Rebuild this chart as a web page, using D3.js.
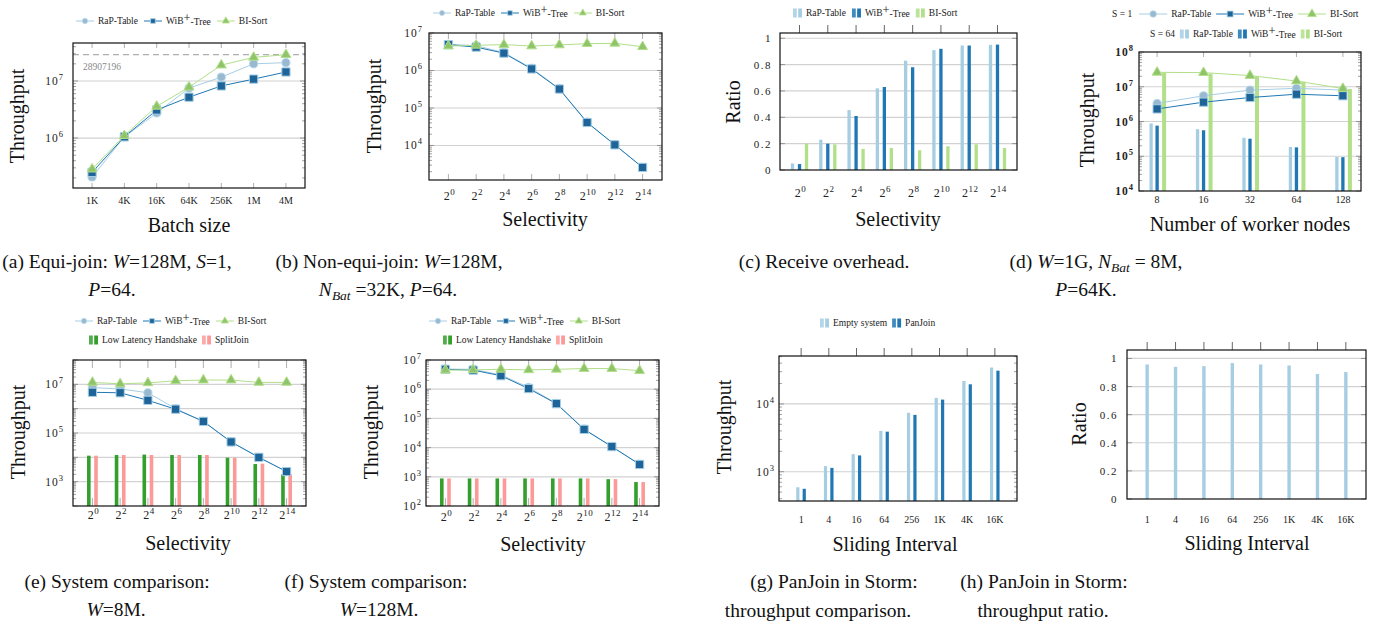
<!DOCTYPE html>
<html>
<head>
<meta charset="utf-8">
<script src="https://cdn.jsdelivr.net/npm/d3@7"></script>
<style>
body{margin:0;background:#fff;}
svg{display:block;}
svg text{font-family:"Liberation Serif","DejaVu Serif",serif;}
</style>
</head>
<body>
<div id="container"></div>
<script>
// ---------- data ----------
const seriesNames = ["RaP-Table", "WiB+-Tree", "BI-Sort"];
const sysNames = ["Low Latency Handshake", "SplitJoin"];
const stormNames = ["Empty system", "PanJoin"];

// (a) equi-join, throughput vs batch size
const batchSizes = ["1K", "4K", "16K", "64K", "256K", "1M", "4M"];
const equiRaP = [2.07e5, 1.05e6, 2.75e6, 7.5e6, 1.17e7, 2.0e7, 2.1e7];
const equiWiB = [2.5e5, 1.05e6, 3.1e6, 5.2e6, 8.2e6, 1.08e7, 1.44e7];
const equiBI = [2.85e5, 1.1e6, 3.6e6, 7.8e6, 1.9e7, 2.6e7, 2.9e7];
const equiUpper = 28907196;

// selectivity given as exponent of 2
const selectivityExp = [0, 2, 4, 6, 8, 10, 12, 14];

// (b) non-equi-join
const nonEquiRaP = [5.0e6, 4.6e6, 3.0e6, 1.15e6, 3.25e5, 4.2e4, 1.05e4, 2.6e3];
const nonEquiWiB = [4.9e6, 4.2e6, 2.9e6, 1.1e6, 3.2e5, 4.1e4, 1.04e4, 2.6e3];
const nonEquiBI = [4.5e6, 4.7e6, 4.9e6, 4.5e6, 4.8e6, 5.2e6, 5.3e6, 4.3e6];

// (c) receive overhead ratio
const recvRaP = [0.05, 0.23, 0.455, 0.62, 0.83, 0.91, 0.945, 0.95];
const recvWiB = [0.045, 0.2, 0.41, 0.63, 0.78, 0.92, 0.945, 0.952];
const recvBI = [0.2, 0.195, 0.16, 0.167, 0.15, 0.18, 0.195, 0.167];

// (d) scaling with worker nodes
const workers = ["8", "16", "32", "64", "128"];
const s1RaP = [3.3e6, 5.5e6, 8.0e6, 9.0e6, 8.0e6];
const s1WiB = [2.3e6, 3.6e6, 4.9e6, 6.1e6, 5.5e6];
const s1BI = [2.6e7, 2.55e7, 2.1e7, 1.46e7, 8.9e6];
const s64RaP = [8.8e5, 6.0e5, 3.4e5, 1.85e5, 9.6e4];
const s64WiB = [7.6e5, 5.6e5, 3.2e5, 1.8e5, 9.4e4];
const s64BI = [2.5e7, 2.4e7, 2.0e7, 1.4e7, 8.6e6];

// (e) system comparison W=8M
const sys8RaP = [7.3e6, 6.5e6, 4.5e6, 1.0e6, 3.0e5, 4.3e4, 1.0e4, 2.6e3];
const sys8WiB = [4.7e6, 4.5e6, 2.2e6, 9.5e5, 3.0e5, 4.3e4, 1.0e4, 2.6e3];
const sys8BI = [1.2e7, 1.05e7, 1.15e7, 1.4e7, 1.5e7, 1.5e7, 1.2e7, 1.2e7];
const sys8LLH = [1.17e4, 1.25e4, 1.3e4, 1.25e4, 1.25e4, 9.7e3, 5.3e3, 2.0e3];
const sys8Split = [1.17e4, 1.25e4, 1.25e4, 1.25e4, 1.25e4, 9.7e3, 5.5e3, 2.0e3];

// (f) system comparison W=128M
const sys128RaP = [4.9e6, 4.8e6, 3.1e6, 1.15e6, 3.3e5, 4.3e4, 1.1e4, 2.7e3];
const sys128WiB = [4.8e6, 4.5e6, 2.9e6, 1.05e6, 3.2e5, 4.2e4, 1.08e4, 2.65e3];
const sys128BI = [4.5e6, 4.6e6, 4.8e6, 4.6e6, 4.8e6, 5.1e6, 5.1e6, 4.3e6];
const sys128LLH = [880, 880, 880, 880, 880, 880, 830, 660];
const sys128Split = [880, 880, 880, 880, 880, 880, 830, 660];

// (g),(h) PanJoin in Storm
const intervals = ["1", "4", "16", "64", "256", "1K", "4K", "16K"];
const stormEmpty = [590, 1210, 1820, 4000, 7400, 12300, 21800, 34500];
const stormPan = [560, 1140, 1740, 3900, 6900, 11600, 19500, 31000];
const stormRatio = [0.957, 0.94, 0.945, 0.967, 0.957, 0.95, 0.889, 0.903];

// ---------- styles ----------
const cRaP = "#a6cee3", cWiB = "#1f78b4", cBI = "#b2df8a", cLLH = "#33a02c", cSplit = "#fb9a99";
const stRaP = {line: cRaP, sym: d3.symbolCircle, size: 52, fill: "#98b9d0", edge: "#b8d8ec"};
const stWiB = {line: cWiB, sym: d3.symbolSquare, size: 68, fill: "#1e6499", edge: "#a6cee3"};
const stBI = {line: cBI, sym: d3.symbolTriangle, size: 42, fill: "#8fc46b", edge: "#b2df8a"};

const svg = d3.select("#container").append("svg")
	.attr("width", 1376).attr("height", 629);

function makePanel(box, cats, pad, type, domain){
	let x = d3.scalePoint().domain(cats).range([box.l, box.r]).padding(pad);
	let y = (type === "log" ? d3.scaleLog() : d3.scaleLinear()).domain(domain).range([box.b, box.t]);
	let g = svg.append("g");
	return {box: box, x: x, y: y, g: g, log: type === "log", cats: cats};
}

function grid(p, vals){
	p.g.selectAll(null).data(vals).join("line")
		.attr("x1", p.box.l).attr("x2", p.box.r)
		.attr("y1", d => p.y(d)).attr("y2", d => p.y(d))
		.attr("stroke", "#d2d2d2").attr("stroke-width", 1.2);
}

function yTicks(p){
	let [lo, hi] = p.y.domain();
	let major = [], minor = [];
	if (p.log) {
		for (let k = Math.floor(Math.log10(lo)); k <= Math.ceil(Math.log10(hi)); k++) {
			for (let m = 1; m < 10; m++) {
				let v = m * Math.pow(10, k);
				if (v < lo * 0.999 || v > hi * 1.001) continue;
				(m === 1 ? major : minor).push(v);
			}
		}
	} else {
		major = d3.range(0, hi + 1e-9, 0.2);
	}
	let ticks = major.map(v => [v, 5]).concat(minor.map(v => [v, 3]));
	[[p.box.l, 1], [p.box.r, -1]].forEach(function([x0, dir]){
		p.g.selectAll(null).data(ticks).join("line")
			.attr("x1", x0).attr("x2", d => x0 + dir * d[1])
			.attr("y1", d => p.y(d[0])).attr("y2", d => p.y(d[0]))
			.attr("stroke", "#666").attr("stroke-width", 0.6);
	});
}

function xTicksInside(p, len){
	p.g.selectAll(null).data(p.cats).join("line")
		.attr("x1", d => p.x(d)).attr("x2", d => p.x(d))
		.attr("y1", p.box.b).attr("y2", p.box.b - len)
		.attr("stroke", "#999").attr("stroke-width", 0.8);
	p.g.selectAll(null).data(p.cats).join("line")
		.attr("x1", d => p.x(d)).attr("x2", d => p.x(d))
		.attr("y1", p.box.t).attr("y2", p.box.t + len)
		.attr("stroke", "#999").attr("stroke-width", 0.8);
}

function xTicksTop(p){
	p.g.selectAll(null).data(p.cats).join("line")
		.attr("x1", d => p.x(d)).attr("x2", d => p.x(d))
		.attr("y1", p.box.t).attr("y2", p.box.t - 8)
		.attr("stroke", "#555").attr("stroke-width", 0.9);
}

function frame(p){
	p.g.append("rect")
		.attr("x", p.box.l).attr("y", p.box.t)
		.attr("width", p.box.r - p.box.l).attr("height", p.box.b - p.box.t)
		.attr("fill", "none").attr("stroke", "#111").attr("stroke-width", 1.2);
}

function logLabels(p, exps, gap, weight){
	let t = p.g.selectAll(null).data(exps).join("text")
		.attr("x", p.box.l - gap).attr("y", d => p.y(Math.pow(10, d)) + 4)
		.attr("text-anchor", "end").attr("font-size", 11.5).attr("fill", "#222")
		.attr("font-weight", weight || "normal").attr("letter-spacing", 1);
	t.append("tspan").text("10");
	t.append("tspan").attr("dy", -5).attr("font-size", 8.5).text(d => d);
}

function linLabels(p, vals, gap){
	p.g.selectAll(null).data(vals).join("text")
		.attr("x", p.box.l - gap).attr("y", d => p.y(d) + 4)
		.attr("text-anchor", "end").attr("font-size", 11).attr("fill", "#222")
		.attr("letter-spacing", 1.5)
		.text(d3.format("~g"));
}

function catLabels(p, base){
	p.g.selectAll(null).data(p.cats).join("text")
		.attr("x", d => p.x(d)).attr("y", base)
		.attr("text-anchor", "middle").attr("font-size", 10).attr("fill", "#222")
		.text(d => d);
}

function powLabels(p, base){
	let t = p.g.selectAll(null).data(p.cats).join("text")
		.attr("x", d => p.x(d) + 1).attr("y", base)
		.attr("text-anchor", "middle").attr("font-size", 12).attr("fill", "#222")
		.attr("letter-spacing", 0.5);
	t.append("tspan").text("2");
	t.append("tspan").attr("dy", -5).attr("font-size", 9).text(d => d);
}

function lineSeries(p, vals, st){
	let pts = p.cats.map((c, i) => [p.x(c), p.y(vals[i])]);
	p.g.append("path").attr("d", d3.line()(pts))
		.attr("fill", "none").attr("stroke", st.line).attr("stroke-width", 1);
	p.g.selectAll(null).data(pts).join("path")
		.attr("transform", d => "translate(" + d[0] + "," + d[1] + ")")
		.attr("d", d3.symbol(st.sym, st.size)())
		.attr("fill", st.fill).attr("stroke", st.edge).attr("stroke-width", 1);
}

function barSeries(p, vals, off, w, color){
	p.g.selectAll(null).data(vals).join("rect")
		.attr("x", (d, i) => p.x(p.cats[i]) + off - w / 2).attr("width", w)
		.attr("y", d => p.y(d)).attr("height", d => p.box.b - p.y(d))
		.attr("fill", color);
}

function yTitle(x, y, txt){
	svg.append("text").attr("transform", "translate(" + x + "," + y + ") rotate(-90)")
		.attr("text-anchor", "middle").attr("font-size", 20).attr("fill", "#111").text(txt);
}
function xTitle(x, y, txt){
	svg.append("text").attr("x", x).attr("y", y)
		.attr("text-anchor", "middle").attr("font-size", 20).attr("fill", "#111").text(txt);
}

function seriesText(sel, name){
	if (name.indexOf("+") >= 0) {
		let parts = name.split("+");
		sel.append("tspan").text(parts[0]);
		sel.append("tspan").attr("dy", -2.5).attr("font-size", 12.5).text("+");
		sel.append("tspan").attr("dy", 3.5).text(parts[1]);
	} else {
		sel.text(name);
	}
}

function legend(x0, y, items){
	let x = x0;
	let g = svg.append("g").attr("font-size", 9.5).attr("fill", "#222");
	items.forEach(function(it){
		if (it.kind === "line") {
			g.append("line").attr("x1", x).attr("x2", x + it.len).attr("y1", y).attr("y2", y)
				.attr("stroke", it.st.line).attr("stroke-width", 1);
			g.append("path").attr("transform", "translate(" + (x + it.len / 2) + "," + y + ")")
				.attr("d", d3.symbol(it.st.sym, it.msize)())
				.attr("fill", it.st.fill).attr("stroke", it.st.edge).attr("stroke-width", 0.8);
			x += it.len + 4;
		} else if (it.kind === "bar") {
			g.append("rect").attr("x", x).attr("y", y - 4.5).attr("width", 3.8).attr("height", 9)
				.attr("fill", it.color).attr("opacity", 0.85);
			g.append("rect").attr("x", x + 5.2).attr("y", y - 4.5).attr("width", 3.8).attr("height", 9)
				.attr("fill", it.color);
			x += 9 + 4;
		}
		let t = g.append("text").attr("x", x).attr("y", y + 3.3);
		seriesText(t, it.name);
		x += t.node().getComputedTextLength() + (it.gap === undefined ? 6 : it.gap);
	});
}

function lineItems(len, msize){
	return [stRaP, stWiB, stBI].map((st, i) => ({kind: "line", st: st, name: seriesNames[i], len: len, msize: msize}));
}

// ---------- (a) ----------
let pa = makePanel({l: 73, r: 305, t: 43, b: 188}, batchSizes, 0.59, "log", [1.33e5, 4.64e7]);
grid(pa, [1e6, 1e7]);
yTicks(pa);
xTicksInside(pa, 5);
pa.g.append("line").attr("x1", pa.box.l).attr("x2", pa.box.r)
	.attr("y1", pa.y(equiUpper)).attr("y2", pa.y(equiUpper))
	.attr("stroke", "#9a9a9a").attr("stroke-width", 1).attr("stroke-dasharray", "6,4");
pa.g.append("text").attr("x", 83).attr("y", pa.y(equiUpper) + 15)
	.attr("font-size", 9.5).attr("fill", "#8a8a8a").text(equiUpper);
lineSeries(pa, equiRaP, stRaP);
lineSeries(pa, equiWiB, stWiB);
lineSeries(pa, equiBI, stBI);
frame(pa);
logLabels(pa, [6, 7], 9);
catLabels(pa, 203.5);
legend(76, 21, lineItems(18, 22));
yTitle(24, 116, "Throughput");
xTitle(189, 232, "Batch size");

// ---------- (b) ----------
let pb = makePanel({l: 429, r: 662, t: 33, b: 180}, selectivityExp, 0.7, "log", [1.2e3, 1e7]);
grid(pb, [1e4, 1e5, 1e6]);
yTicks(pb);
xTicksInside(pb, 6);
lineSeries(pb, nonEquiRaP, stRaP);
lineSeries(pb, nonEquiWiB, stWiB);
lineSeries(pb, nonEquiBI, stBI);
frame(pb);
logLabels(pb, [4, 5, 6, 7], 6);
powLabels(pb, 200);
legend(433, 13, lineItems(18, 20));
yTitle(381, 106, "Throughput");
xTitle(545, 226, "Selectivity");

// ---------- (c) ----------
let pc = makePanel({l: 780, r: 1017, t: 33, b: 170}, selectivityExp, 0.69, "linear", [0, 1.04]);
grid(pc, [0.2, 0.4, 0.6, 0.8, 1]);
yTicks(pc);
xTicksTop(pc);
barSeries(pc, recvRaP, -7, 3.3, cRaP);
barSeries(pc, recvWiB, 0, 3.3, cWiB);
barSeries(pc, recvBI, 7, 3.3, cBI);
frame(pc);
linLabels(pc, [0, 0.2, 0.4, 0.6, 0.8, 1], 8);
powLabels(pc, 197);
legend(793, 13, [cRaP, cWiB, cBI].map((c, i) => ({kind: "bar", color: c, name: seriesNames[i]})));
yTitle(740, 102, "Ratio");
xTitle(898, 226, "Selectivity");

// ---------- (d) ----------
let pd = makePanel({l: 1139, r: 1361, t: 52, b: 191}, workers, 0.39, "log", [1e4, 1e8]);
grid(pd, [1e5, 1e6, 1e7]);
yTicks(pd);
xTicksInside(pd, 5);
barSeries(pd, s64RaP, -6, 3.3, cRaP);
barSeries(pd, s64WiB, 0, 3.3, cWiB);
barSeries(pd, s64BI, 7, 4, cBI);
lineSeries(pd, s1RaP, stRaP);
lineSeries(pd, s1WiB, stWiB);
lineSeries(pd, s1BI, stBI);
frame(pd);
logLabels(pd, [4, 5, 6, 7, 8], 5, "bold");
catLabels(pd, 203);
legend(1112, 14, [{kind: "label", name: "S = 1", gap: 7}].concat(lineItems(28, 34).map(d => Object.assign(d, {gap: 5}))));
legend(1150, 34, [{kind: "label", name: "S = 64", gap: 5}].concat(
	[cRaP, cWiB, cBI].map((c, i) => ({kind: "bar", color: c, name: seriesNames[i], gap: 5}))));
yTitle(1094, 120, "Throughput");
xTitle(1250, 231, "Number of worker nodes");

// ---------- (e) ----------
let pe = makePanel({l: 73, r: 306, t: 360, b: 506}, selectivityExp, 0.7, "log", [1e2, 1e8]);
grid(pe, [1e3, 1e4, 1e5, 1e6, 1e7]);
yTicks(pe);
xTicksInside(pe, 8);
barSeries(pe, sys8LLH, -3.6, 3.6, cLLH);
barSeries(pe, sys8Split, 3.6, 3.6, cSplit);
lineSeries(pe, sys8RaP, stRaP);
lineSeries(pe, sys8WiB, stWiB);
lineSeries(pe, sys8BI, stBI);
frame(pe);
logLabels(pe, [3, 5, 7], 9);
powLabels(pe, 519);
legend(75, 321, lineItems(18, 22));
legend(89, 340, [cLLH, cSplit].map((c, i) => ({kind: "bar", color: c, name: sysNames[i], gap: 5})));
yTitle(24.5, 432, "Throughput");
xTitle(188, 550, "Selectivity");

// ---------- (f) ----------
let pf = makePanel({l: 426, r: 659, t: 360, b: 506}, selectivityExp, 0.7, "log", [1e2, 1e7]);
grid(pf, [1e3, 1e4, 1e5, 1e6]);
yTicks(pf);
xTicksInside(pf, 8);
barSeries(pf, sys128LLH, -3.6, 3.6, cLLH);
barSeries(pf, sys128Split, 3.6, 3.6, cSplit);
lineSeries(pf, sys128RaP, stRaP);
lineSeries(pf, sys128WiB, stWiB);
lineSeries(pf, sys128BI, stBI);
frame(pf);
logLabels(pf, [2, 3, 4, 5, 6, 7], 4);
powLabels(pf, 521);
legend(429, 321, lineItems(18, 22));
legend(443, 340, [cLLH, cSplit].map((c, i) => ({kind: "bar", color: c, name: sysNames[i], gap: 5})));
yTitle(378, 432, "Throughput");
xTitle(543, 551, "Selectivity");

// ---------- (g) ----------
let pg = makePanel({l: 779, r: 1017, t: 356, b: 501}, intervals, 0.8, "log", [3.7e2, 5.1e4]);
grid(pg, [1e3, 1e4]);
yTicks(pg);
xTicksTop(pg);
barSeries(pg, stormEmpty, -3.3, 3.2, cRaP);
barSeries(pg, stormPan, 3.1, 3.2, cWiB);
frame(pg);
logLabels(pg, [3, 4], 4);
catLabels(pg, 523);
legend(820, 323, [cRaP, cWiB].map((c, i) => ({kind: "bar", color: c, name: stormNames[i], gap: 5})));
yTitle(731, 427, "Throughput");
xTitle(895, 551, "Sliding Interval");

// ---------- (h) ----------
let ph = makePanel({l: 1127, r: 1366, t: 350, b: 499}, intervals, 0.71, "linear", [0, 1.06]);
grid(ph, [0.2, 0.4, 0.6, 0.8, 1]);
yTicks(ph);
xTicksTop(ph);
barSeries(ph, stormRatio, 0, 3.4, cRaP);
frame(ph);
linLabels(ph, [0, 0.2, 0.4, 0.6, 0.8, 1], 9);
catLabels(ph, 523);
yTitle(1086, 424, "Ratio");
xTitle(1247, 550, "Sliding Interval");

// ---------- captions ----------
const captions = [
	{x: 117, y: 268, segs: [["(a) Equi-join: "], ["W", "i"], ["=128M, "], ["S", "i"], ["=1,"]]},
	{x: 112, y: 296, segs: [["P", "i"], ["=64."]]},
	{x: 389, y: 268, segs: [["(b) Non-equi-join: "], ["W", "i"], ["=128M,"]]},
	{x: 388, y: 296, segs: [["N", "i"], ["Bat", "sub"], [" =32K, "], ["P", "i"], ["=64."]]},
	{x: 824, y: 268, segs: [["(c) Receive overhead."]]},
	{x: 1096, y: 268, segs: [["(d) "], ["W", "i"], ["=1G, "], ["N", "i"], ["Bat", "sub"], [" = 8M,"]]},
	{x: 1086, y: 296, segs: [["P", "i"], ["=64K."]]},
	{x: 117, y: 588, segs: [["(e) System comparison:"]]},
	{x: 116, y: 616, segs: [["W", "i"], ["=8M."]]},
	{x: 376, y: 588, segs: [["(f) System comparison:"]]},
	{x: 379, y: 616, segs: [["W", "i"], ["=128M."]]},
	{x: 834, y: 588, segs: [["(g) PanJoin in Storm:"]]},
	{x: 818, y: 617, segs: [["throughput comparison."]]},
	{x: 1044, y: 588, segs: [["(h) PanJoin in Storm:"]]},
	{x: 1043, y: 617, segs: [["throughput ratio."]]}
];
captions.forEach(function(c){
	let t = svg.append("text").attr("x", c.x).attr("y", c.y)
		.attr("text-anchor", "middle").attr("font-size", 19.5).attr("fill", "#111");
	let shifted = false;
	c.segs.forEach(function(s){
		let ts = t.append("tspan").text(s[0]);
		if (s[1] === "i") ts.attr("font-style", "italic");
		if (s[1] === "sub") {
			ts.attr("font-style", "italic").attr("font-size", 13.5).attr("dy", 4);
			shifted = true;
		} else if (shifted) {
			ts.attr("dy", -4);
			shifted = false;
		}
	});
});
</script>
</body>
</html>
